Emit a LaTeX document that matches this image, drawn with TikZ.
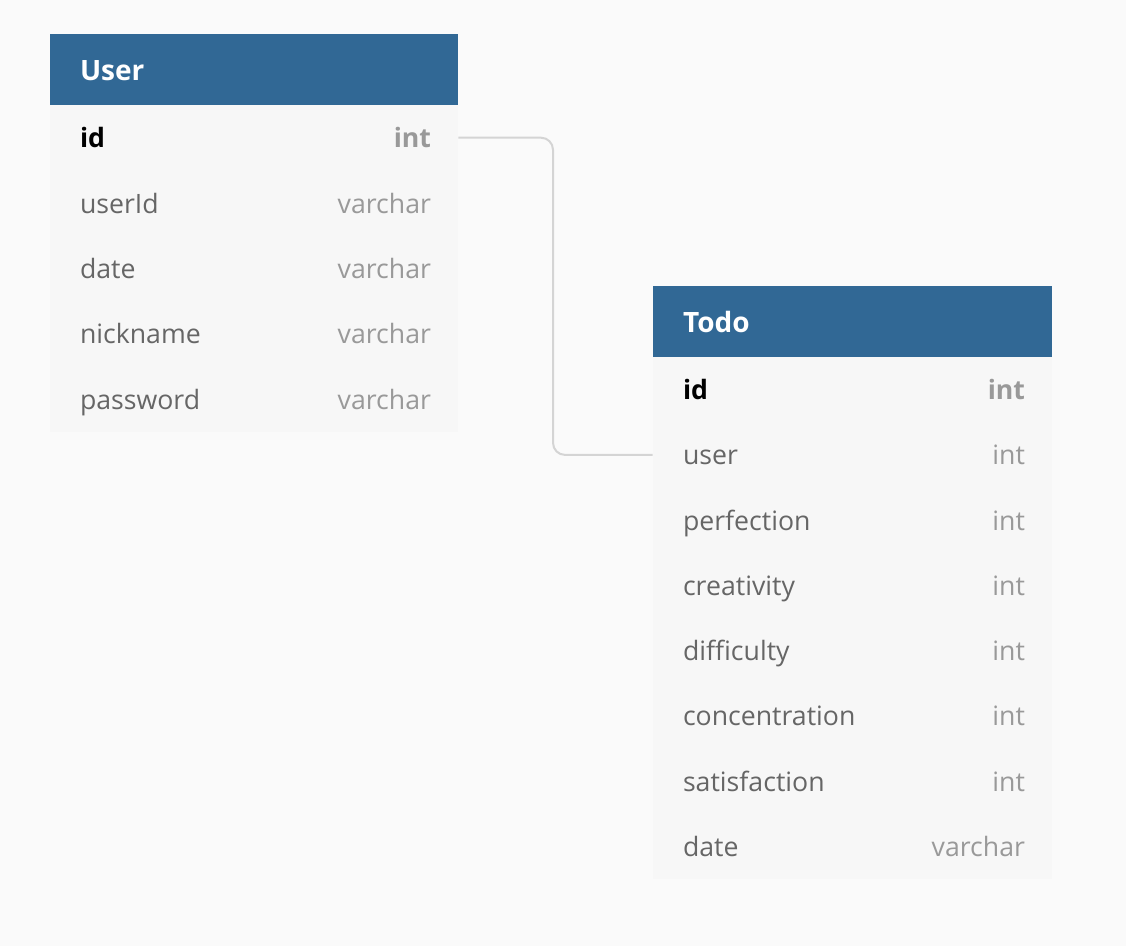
\documentclass[tikz,border=0pt]{standalone}
\usepackage{fontspec}
\setmainfont{Open Sans}
\usepackage{tikz}
\definecolor{headblue}{HTML}{316895}
\definecolor{rowgray}{HTML}{F7F7F7}
\definecolor{paper}{HTML}{FAFAFA}
\definecolor{fieldgray}{HTML}{666666}
\definecolor{typegray}{HTML}{999999}
\definecolor{linkgray}{HTML}{D4D4D4}
\tikzstyle{head} = [draw=none, fill=headblue, minimum height=53.25pt, inner sep=0pt]
\tikzstyle{row} = [draw=none, fill=rowgray, minimum height=49.05pt, inner sep=0pt]
\tikzstyle{txt} = [inner sep=0pt, text height=15pt, text depth=0pt, font=\fontsize{20pt}{24pt}\selectfont]
\tikzstyle{title} = [txt, anchor=west, xshift=22.5pt, text height=15.75pt, text=white, font=\fontsize{21pt}{25pt}\selectfont\bfseries]
\tikzstyle{field} = [txt, anchor=west, xshift=22.5pt, text=fieldgray]
\tikzstyle{type} = [txt, anchor=east, xshift=-20.25pt, text=typegray]
\tikzstyle{link} = [draw=linkgray, line width=1.5pt, rounded corners=9pt]

\begin{document}
\begin{tikzpicture}[x=0.75pt,y=-0.75pt]

\fill[paper] (0,0) rectangle (1126,946);
\useasboundingbox (0,0) rectangle (1126,946);

% User table
\node[head, minimum width=306pt] (uh) at (254,69.5) {};
\node[row, minimum width=306pt] (u1) at (254,137.7) {};
\node[row, minimum width=306pt] (u2) at (254,203.1) {};
\node[row, minimum width=306pt] (u3) at (254,268.5) {};
\node[row, minimum width=306pt] (u4) at (254,333.9) {};
\node[row, minimum width=306pt] (u5) at (254,399.3) {};

\node[title] at (uh.west) {User};
\node[field, text=black, font=\fontsize{20pt}{24pt}\selectfont\bfseries] at (u1.west) {id};
\node[type, font=\fontsize{20pt}{24pt}\selectfont\bfseries] at (u1.east) {int};
\node[field] at (u2.west) {userId};
\node[type] at (u2.east) {varchar};
\node[field] at (u3.west) {date};
\node[type] at (u3.east) {varchar};
\node[field] at (u4.west) {nickname};
\node[type] at (u4.east) {varchar};
\node[field] at (u5.west) {password};
\node[type] at (u5.east) {varchar};

% Todo table
\node[head, minimum width=299.25pt] (th) at (852.5,321.5) {};
\node[row, minimum width=299.25pt] (t1) at (852.5,389.6) {};
\node[row, minimum width=299.25pt] (t2) at (852.5,454.9) {};
\node[row, minimum width=299.25pt] (t3) at (852.5,520.1) {};
\node[row, minimum width=299.25pt] (t4) at (852.5,585.4) {};
\node[row, minimum width=299.25pt] (t5) at (852.5,650.6) {};
\node[row, minimum width=299.25pt] (t6) at (852.5,715.9) {};
\node[row, minimum width=299.25pt] (t7) at (852.5,781.1) {};
\node[row, minimum width=299.25pt] (t8) at (852.5,846.4) {};

\node[title] at (th.west) {Todo};
\node[field, text=black, font=\fontsize{20pt}{24pt}\selectfont\bfseries] at (t1.west) {id};
\node[type, font=\fontsize{20pt}{24pt}\selectfont\bfseries] at (t1.east) {int};
\node[field] at (t2.west) {user};
\node[type] at (t2.east) {int};
\node[field] at (t3.west) {perfection};
\node[type] at (t3.east) {int};
\node[field] at (t4.west) {creativity};
\node[type] at (t4.east) {int};
\node[field] at (t5.west) {difficulty};
\node[type] at (t5.east) {int};
\node[field] at (t6.west) {concentration};
\node[type] at (t6.east) {int};
\node[field] at (t7.west) {satisfaction};
\node[type] at (t7.east) {int};
\node[field] at (t8.west) {date};
\node[type] at (t8.east) {varchar};

% relation
\coordinate (bend) at (553,137.7);
\draw[link] (u1.east) -- (bend) |- (t2.west);

\end{tikzpicture}
\end{document}
